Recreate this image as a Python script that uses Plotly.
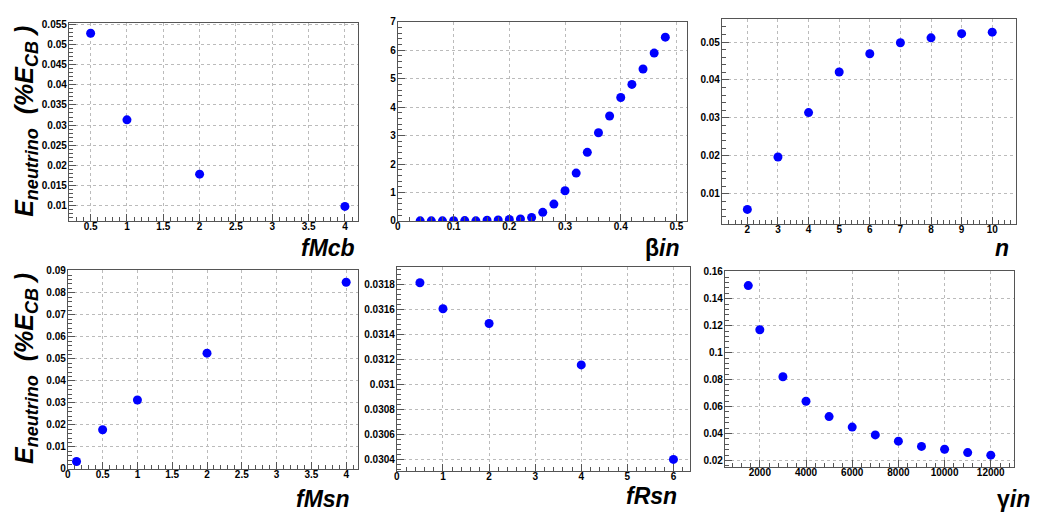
import plotly.graph_objects as go

# ---- data ----
fmcb_x = [0.5, 1, 2, 4]
fmcb_y = [0.0528, 0.0313, 0.0178, 0.0098]

beta_x = [0.04, 0.06, 0.08, 0.10, 0.12, 0.14, 0.16, 0.18, 0.20, 0.22, 0.24, 0.26,
          0.28, 0.30, 0.32, 0.34, 0.36, 0.38, 0.40, 0.42, 0.44, 0.46, 0.48]
beta_y = [0.0, 0.0, 0.0, 0.005, 0.01, 0.0, 0.02, 0.03, 0.05, 0.07, 0.12, 0.30,
          0.59, 1.06, 1.68, 2.41, 3.10, 3.69, 4.34, 4.80, 5.34, 5.90, 6.46]

n_x = [2, 3, 4, 5, 6, 7, 8, 9, 10]
n_y = [0.0059, 0.0197, 0.0314, 0.0421, 0.0469, 0.0498, 0.0511, 0.0522, 0.0526]

fmsn_x = [0.125, 0.5, 1, 2, 4]
fmsn_y = [0.0034, 0.0178, 0.0313, 0.0526, 0.0848]

frsn_x = [0.5, 1, 2, 4, 6]
frsn_y = [0.031813, 0.031605, 0.031487, 0.031155, 0.030397]

gamma_x = [1500, 2000, 3000, 4000, 5000, 6000, 7000, 8000, 9000, 10000, 11000, 12000]
gamma_y = [0.1498, 0.1170, 0.0821, 0.0639, 0.0525, 0.0447, 0.0389, 0.0343, 0.0304,
           0.0283, 0.0258, 0.0239]

W, H = 1043, 514

panels = [
    (fmcb_x, fmcb_y, (58, 348, 10, 212), [0.2, 4.18], [0.0062, 0.0554], 0.5, 0.005),
    (beta_x, beta_y, (388, 678, 9, 212), [0, 0.519], [0, 7], 0.1, 1),
    (n_x, n_y, (713, 1008, 6, 215), [1.17, 10.78], [0.0021, 0.0561], 1, 0.01),
    (fmsn_x, fmsn_y, (57, 348, 262, 465), [0, 4.17], [0, 0.0904], 0.5, 0.01),
    (frsn_x, frsn_y, (387, 681, 259, 467), [0, 6.36], [0.030305, 0.03194], 1, 0.0002),
    (gamma_x, gamma_y, (716, 1006, 263, 463), [490, 13010], [0.0151, 0.1607], 2000, 0.02),
]

fig = go.Figure()
tickfont = dict(family="Liberation Sans", size=10, color="black", weight="bold")

for i, (xs, ys, box, xr, yr, xd, yd) in enumerate(panels):
    k = "" if i == 0 else str(i + 1)
    x0, x1, yt, yb = box
    fig.add_trace(go.Scatter(
        x=xs, y=ys, mode="markers",
        marker=dict(color="#0000ff", size=9, line=dict(width=0)),
        xaxis="x" + k, yaxis="y" + k, showlegend=False))
    common = dict(showline=True, linecolor="#555555", linewidth=1, mirror=True,
                  ticks="inside", ticklen=7, tickcolor="#555555",
                  showgrid=True, gridcolor="#bbbbbb", griddash="dot", gridwidth=1,
                  zeroline=False, tickfont=tickfont)
    xfmt = "d" if i == 5 else None
    fig.layout["xaxis" + k] = dict(
        domain=[x0 / W, x1 / W], anchor="y" + k, range=xr, dtick=xd, tick0=0,
        tickformat=xfmt, ticklabelstandoff=-4,
        minor=dict(ticks="inside", ticklen=4, dtick=xd / 5, tickcolor="#555555", showgrid=False),
        **common)
    fig.layout["yaxis" + k] = dict(
        domain=[1 - yb / H, 1 - yt / H], anchor="x" + k, range=yr, dtick=yd, tick0=0,
        ticklabelstandoff=-1,
        minor=dict(ticks="inside", ticklen=4, dtick=yd / 5, tickcolor="#555555", showgrid=False),
        **common)

ytitle = ("<b><i>E<sub><span style='font-size:18px'>neutrino</span></sub>"
          "&nbsp;&nbsp;(%E<sub><span style='font-size:18px'>CB</span></sub>&nbsp;)</i></b>")
annos = []
for yc in (110, 362):
    annos.append(dict(text=ytitle, x=15 / W, y=1 - yc / H, xref="paper", yref="paper",
                      textangle=-90, showarrow=False, xanchor="center", yanchor="middle",
                      font=dict(family="Liberation Sans", size=25, color="black")))

xtitles = [
    ("<b><i>fMcb</i></b>", 347, 240, "right"),
    ("<b>β<i>in</i></b>", 673, 240, "right"),
    ("<b><i>n</i></b>", 1003, 240, "right"),
    ("<b><i>fMsn</i></b>", 342, 496, "right"),
    ("<b><i>fRsn</i></b>", 670, 493, "right"),
    ("<b>γ<i>in</i></b>", 987, 496, "left"),
]
for t, xr_, yc, anc in xtitles:
    annos.append(dict(text=t, x=xr_ / W, y=1 - yc / H, xref="paper", yref="paper",
                      showarrow=False, xanchor=anc, yanchor="middle",
                      font=dict(family="Liberation Sans", size=23, color="black")))

fig.update_layout(width=W, height=H, margin=dict(l=0, r=0, t=0, b=0),
                  paper_bgcolor="white", plot_bgcolor="white", annotations=annos)

fig.write_html("out.html")
